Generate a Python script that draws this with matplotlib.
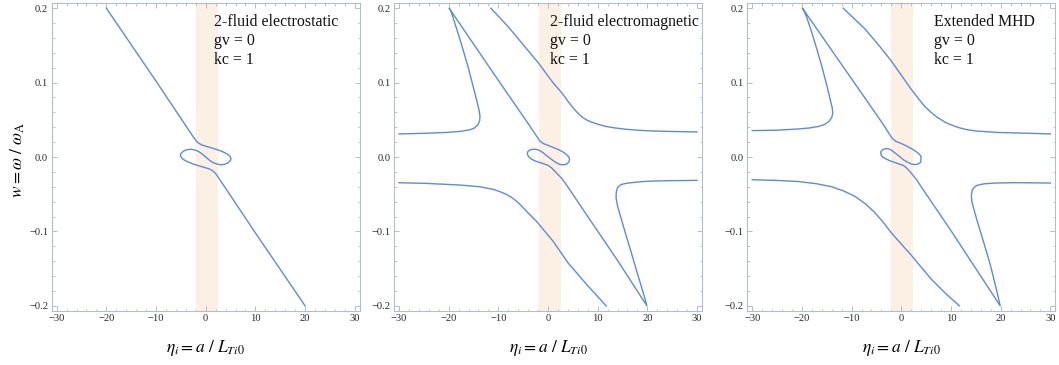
import numpy as np
import matplotlib
matplotlib.use("Agg")
import matplotlib.pyplot as plt
from matplotlib.ticker import MultipleLocator, FuncFormatter

plt.rcParams['font.family'] = ['Liberation Serif', 'DejaVu Serif']
plt.rcParams['mathtext.fontset'] = 'stix'

# --- data (eta_i, w) ---
titles = ["2-fluid electrostatic", "2-fluid electromagnetic", "Extended MHD"]
params = "gv = 0\nkc = 1"
band_lo = [-2.0, -1.9, -2.0]
band_hi = [2.5, 2.65, 2.3]
text_x = [1.7, 0.5, 6.5]

# panel 1: electrostatic, one curve
es_x = [-20, -10, -4, -3, -2.4, -1.9, -1.4, -0.7, 0, 1.4, 2.7, 3.5, 4.2, 4.8, 5.1, 4.95, 4.5,
        3.8, 3.0, 2.0, 1.3, 0.7, 0, -0.7, -1.3, -2.0, -3.0, -3.8, -4.5, -4.95, -5.1, -4.8,
        -4.2, -3.5, -2.7, -1.4, 0, 0.7, 1.4, 1.9, 2.4, 3, 4, 10, 20]
es_y = [0.2, 0.102, 0.042, 0.032, 0.026, 0.0215, 0.0185, 0.016, 0.0145, 0.0118, 0.009, 0.0068,
        0.0045, 0.0018, -0.002, -0.0048, -0.0078, -0.0098, -0.0105, -0.009, -0.0068, -0.004,
        0.0, 0.004, 0.0068, 0.009, 0.0105, 0.0098, 0.0078, 0.0048, 0.002, -0.0018, -0.0045,
        -0.0068, -0.009, -0.0118, -0.0145, -0.016, -0.0185, -0.0215, -0.026, -0.032, -0.042,
        -0.102, -0.2]

# panel 2: electromagnetic
em_main_x = [-30, -24, -20, -17.5, -15.8, -14.8, -14.1, -13.75, -13.7, -13.85, -14.2, -15.0,
             -16.0, -17.0, -18.0, -19.0, -19.6, -19.9,
             -10, -3.67, -2.6, -1.66, -0.9, 0, 1.0, 2.0, 2.9, 3.67, 4.15, 4.35, 4.2, 3.67, 3.0,
             2.34, 1.5, 0.67, -0.2, -1.0, -1.7, -2.34, -3.0, -3.67, -4.1, -4.14, -3.9, -3.47,
             -2.8, -2.0, -1.0, 0, 0.7, 1.34, 2.0, 2.67, 3.67, 8, 14, 19.9,
             19.5, 18.7, 17.7, 16.7, 15.7, 14.7, 14.0, 13.7, 13.75, 14.0, 14.7, 15.7, 16.7, 19,
             21.4, 25, 30]
em_main_y = [0.031, 0.032, 0.0332, 0.0345, 0.0365, 0.039, 0.0435, 0.049, 0.055, 0.062, 0.072,
             0.093, 0.119, 0.142, 0.164, 0.185, 0.197, 0.2,
             0.103, 0.0418, 0.031, 0.0216, 0.018, 0.0157, 0.013, 0.0103, 0.0072, 0.0036, 0.0005,
             -0.003, -0.0068, -0.0099, -0.0105, -0.0099, -0.007, -0.003, 0.0015, 0.0058, 0.0088,
             0.0103, 0.0105, 0.0094, 0.0068, 0.0036, 0.0005, -0.0022, -0.0047, -0.0067, -0.0088,
             -0.0112, -0.0145, -0.0189, -0.0235, -0.028, -0.037, -0.08, -0.139, -0.2,
             -0.19, -0.172, -0.15, -0.127, -0.105, -0.082, -0.066, -0.055, -0.047, -0.041,
             -0.037, -0.0355, -0.0346, -0.033, -0.0323, -0.0318, -0.0314]
em_up_x = [-11.5, -8, -5, -2, 0, 1, 3, 4, 5, 6, 7, 8, 9, 10.3, 11.7, 13.5, 15.7, 18, 21, 25, 30]
em_up_y = [0.2, 0.175, 0.151, 0.127, 0.109, 0.1, 0.0845, 0.075, 0.0665, 0.059, 0.053, 0.049,
           0.0463, 0.0435, 0.041, 0.039, 0.0373, 0.036, 0.035, 0.0343, 0.0337]
em_lo_x = [-30, -24.4, -17.7, -13.7, -11, -9.7, -8.35, -7.3, -6.35, -5.3, -4.35, -2.34, 1, 4,
           8, 11.7]
em_lo_y = [-0.0346, -0.0355, -0.0377, -0.040, -0.0436, -0.0465, -0.0503, -0.0545, -0.0593,
           -0.066, -0.0728, -0.0863, -0.113, -0.142, -0.173, -0.2]

# panel 3: extended MHD
mhd_main_x = [-30, -25, -20.7, -18.5, -16.7, -15.5, -14.6, -14.0, -13.8, -13.9, -14.3, -15.1,
              -16.0, -17.0, -18.0, -19.0, -19.6, -19.9,
              -10, -3.6, -2.7, -1.9, -1.1, -0.27, 1.0, 2.07, 3.0, 3.73, 4.0, 3.9, 3.4, 2.7, 2.07,
              1.2, 0.4, -0.4, -1.27, -1.9, -2.6, -3.2, -3.73, -4.1, -4.13, -3.9, -3.47, -2.6,
              -1.6, -0.6, 0.4, 1.1, 1.73, 2.4, 3.07, 3.73, 10, 19.9,
              19.4, 18.7, 18, 17, 16, 15.2, 14.6, 14.2, 14.1, 14.3, 14.7, 15.3, 16.7, 19, 22.7, 30]
mhd_main_y = [0.0355, 0.036, 0.0377, 0.039, 0.041, 0.0435, 0.0475, 0.053, 0.059, 0.066, 0.077,
              0.099, 0.122, 0.145, 0.167, 0.187, 0.197, 0.2,
              0.105, 0.0435, 0.034, 0.0256, 0.021, 0.0189, 0.015, 0.0112, 0.0072, 0.0031, 0.0,
              -0.007, -0.0095, -0.0102, -0.0095, -0.0068, -0.0036, 0.0009, 0.0054, 0.0088,
              0.0112, 0.0112, 0.0098, 0.0072, 0.004, 0.0008, -0.0013, -0.0042, -0.0067, -0.009,
              -0.0113, -0.015, -0.0194, -0.025, -0.0306, -0.0373, -0.099, -0.2,
              -0.185, -0.166, -0.147, -0.124, -0.102, -0.084, -0.07, -0.06, -0.052, -0.044,
              -0.0405, -0.038, -0.036, -0.035, -0.0345, -0.035]
mhd_up_x = [-11.7, -7.3, -4.5, -2.0, 0, 2.0, 3.4, 4.7, 6, 7.3, 9, 11.3, 13, 15, 19.3, 25, 30]
mhd_up_y = [0.2, 0.172, 0.15, 0.129, 0.11, 0.091, 0.079, 0.068, 0.06, 0.053, 0.046, 0.04,
            0.037, 0.035, 0.033, 0.032, 0.031]
mhd_lo_x = [-30, -25, -20.7, -17, -14, -11.5, -9.3, -7.2, -5.3, -3.6, -2.0, 2, 6, 9, 11.7]
mhd_lo_y = [-0.0305, -0.0315, -0.033, -0.036, -0.04, -0.046, -0.053, -0.063, -0.075, -0.088,
            -0.102, -0.132, -0.164, -0.184, -0.2]

curves = [
    [(es_x, es_y)],
    [(em_main_x, em_main_y), (em_up_x, em_up_y), (em_lo_x, em_lo_y)],
    [(mhd_main_x, mhd_main_y), (mhd_up_x, mhd_up_y), (mhd_lo_x, mhd_lo_y)],
]

LINE = '#5f8bd6'
BAND = '#fcefe4'
FRAME = '#b4bdca'

fig = plt.figure(figsize=(10.59, 3.65), dpi=100)
lefts = [51.7 / 1059, 394 / 1059, 747.3 / 1059]
W, H = 308 / 1059, 308 / 365
B = 1 - 311 / 365


def fmt_y(v, pos):
    s = "%.1f" % v
    return s.replace("-", "\u2212")


def fmt_x(v, pos):
    s = "%d" % round(v)
    return s.replace("-", "\u2212")


for k in range(3):
    ax = fig.add_axes([lefts[k], B, W, H])
    ax.axvspan(band_lo[k], band_hi[k], color=BAND, lw=0, zorder=0)
    for cx, cy in curves[k]:
        ax.plot(cx, cy, color=LINE, lw=1.0, zorder=2, solid_joinstyle='round')
    ax.set_xlim(-31, 31)
    ax.set_ylim(-0.207, 0.207)
    ax.xaxis.set_major_locator(MultipleLocator(10))
    ax.xaxis.set_minor_locator(MultipleLocator(2))
    ax.yaxis.set_major_locator(MultipleLocator(0.1))
    ax.yaxis.set_minor_locator(MultipleLocator(0.02))
    ax.xaxis.set_major_formatter(FuncFormatter(fmt_x))
    ax.yaxis.set_major_formatter(FuncFormatter(fmt_y))
    ax.tick_params(which='both', direction='in', top=True, right=True, color=FRAME,
                   labelsize=7.6, labelcolor='#2a2a2a')
    ax.tick_params(which='major', length=3.5, width=0.7, pad=2.5)
    ax.tick_params(which='minor', length=1.8, width=0.6)
    for sp in ax.spines.values():
        sp.set_color(FRAME)
        sp.set_linewidth(0.8)
    ax.text(text_x[k], 0.192, titles[k] + "\n" + params, fontsize=11.4, va='top', ha='left',
            linespacing=1.23, color='#111111')
    fig.text(lefts[k] + W / 2, 1 - 348 / 365, r'$\eta_i = a\ /\ L_{Ti0}$', fontsize=12.5,
             ha='center', va='center')

fig.text(18 / 1059, 1 - 160 / 365, r'$w = \omega\ /\ \omega_{\mathrm{A}}$', fontsize=12.5,
         rotation=90, ha='center', va='center')

fig.savefig("out.png", dpi=100)
